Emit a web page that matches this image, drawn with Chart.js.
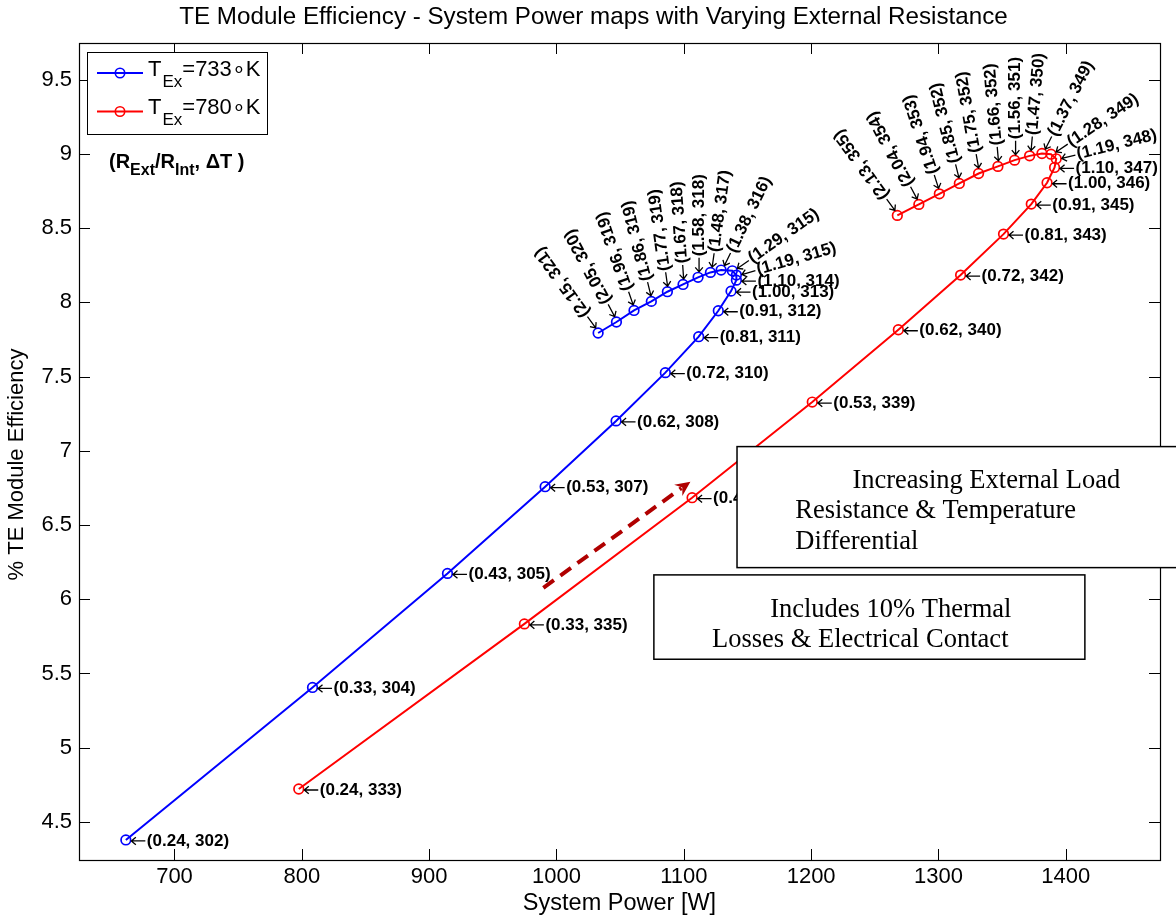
<!DOCTYPE html>
<html><head><meta charset="utf-8">
<script src="https://cdn.jsdelivr.net/npm/chart.js@4.4.1/dist/chart.umd.min.js"></script>
<style>html,body{margin:0;padding:0;background:#fff;overflow:hidden}#wrap{width:1176px;height:919px}</style>
</head><body><div id="wrap"><canvas id="c" width="1176" height="919"></canvas></div>
<script>
// ---------- text ----------
const chartTitle = 'TE Module Efficiency - System Power maps with Varying External Resistance';
const xTitle = 'System Power [W]';
const yTitle = '% TE Module Efficiency';
const xTicks = [700, 800, 900, 1000, 1100, 1200, 1300, 1400];
const yTicks = [4.5, 5, 5.5, 6, 6.5, 7, 7.5, 8, 8.5, 9, 9.5];
const xRange = [625, 1474];
const yRange = [4.244, 9.746];

// ---------- series T_Ex = 733 K ----------
const ratio733 = ['0.24','0.33','0.43','0.53','0.62','0.72','0.81','0.91','1.00','1.10','1.19','1.29','1.38','1.48','1.58','1.67','1.77','1.86','1.96','2.05','2.15'];
const dT733 = [302,304,305,307,308,310,311,312,313,314,315,315,316,317,318,318,319,319,319,320,321];
const power733 = [661.8,808.4,914.4,991.1,1046.8,1085.5,1111.7,1127.1,1137.1,1141.3,1141.3,1138.1,1129.3,1120.9,1111.2,1099.4,1087.1,1074.5,1060.9,1047.1,1032.7];
const eff733 = [4.379,5.406,6.174,6.758,7.201,7.526,7.768,7.943,8.075,8.149,8.183,8.212,8.217,8.201,8.168,8.120,8.071,8.006,7.945,7.867,7.793];
const angle733 = [0,0,0,0,0,0,0,0,0,0,16,35,64,82,90,94,98,104,109,118,126];

// ---------- series T_Ex = 780 K ----------
const ratio780 = ['0.24','0.33','0.43','0.53','0.62','0.72','0.81','0.91','1.00','1.10','1.19','1.28','1.37','1.47','1.56','1.66','1.75','1.85','1.94','2.04','2.13'];
const dT780 = [333,335,337,339,340,342,343,345,346,347,348,349,349,350,351,352,352,352,353,354,355];
const power780 = [797.6,974.8,1106.5,1200.9,1268.5,1317.4,1351.1,1372.9,1385.3,1391.2,1392.5,1388.4,1381.3,1371.6,1359.8,1346.7,1331.5,1316.4,1300.7,1284.6,1267.7];
const eff780 = [4.722,5.834,6.684,7.328,7.815,8.183,8.459,8.661,8.805,8.908,8.966,8.997,9.002,8.986,8.957,8.915,8.867,8.800,8.730,8.659,8.585];
const angle780 = [0,0,0,0,0,0,0,0,0,0,14,34,63,85,90,95,100,104,108,118,126];

// ---------- annotations (data coordinates) ----------
const trendArrow = {from: [989.7, 6.077], to: [1105.2, 6.792]};
const note1Box = {x0: 1141.8, x1: 1495, y0: 7.028, y1: 6.213};
const note1Lines = [['Increasing External Load', 1232.4, 6.797], ['Resistance & Temperature', 1187.6, 6.595], ['Differential', 1187.6, 6.388]];
const note2Box = {x0: 1076.5, x1: 1415, y0: 6.164, y1: 5.596};
const note2Lines = [['Includes 10% Thermal', 1167.8, 5.929], ['Losses & Electrical Contact', 1122.1, 5.727]];

const SANS = '"Liberation Sans", Arial, Helvetica, sans-serif';
const SERIF = '"Liberation Serif", "Times New Roman", serif';

function toPts(xs, ys) { return xs.map((v, i) => ({x: v, y: ys[i]})); }

const decor = {
  id: 'decor',
  afterDatasetsDraw(chart) {
    const {ctx, chartArea: a, scales: {x, y}} = chart;
    // point labels: leftarrow + "(ratio, dT)", rotated around the marker
    ctx.save();
    ctx.fillStyle = '#000';
    ctx.strokeStyle = '#000';
    ctx.lineWidth = 1.3;
    ctx.font = 'bold 17px ' + SANS;
    ctx.textBaseline = 'middle';
    ctx.textAlign = 'left';
    const sets = [[0, ratio733, dT733, angle733], [1, ratio780, dT780, angle780]];
    sets.forEach(([di, rs, ds, angs]) => {
      chart.getDatasetMeta(di).data.forEach((pt, i) => {
        ctx.save();
        ctx.translate(pt.x, pt.y);
        ctx.rotate(-angs[i] * Math.PI / 180);
        ctx.beginPath();
        ctx.moveTo(5.5, 1); ctx.lineTo(19.5, 1);
        ctx.moveTo(10, -2.8); ctx.lineTo(5.5, 1); ctx.lineTo(10, 4.8);
        ctx.stroke();
        ctx.fillText('(' + rs[i] + ', ' + ds[i] + ')', 21, 1);
        ctx.restore();
      });
    });
    ctx.restore();

    // frame and inward ticks
    ctx.save();
    ctx.strokeStyle = '#000';
    ctx.lineWidth = 1.2;
    ctx.strokeRect(Math.round(a.left) + 0.5, Math.round(a.top) + 0.5, Math.round(a.right - a.left), Math.round(a.bottom - a.top));
    ctx.lineWidth = 1;
    ctx.beginPath();
    xTicks.forEach(v => {
      const px = Math.round(x.getPixelForValue(v)) + 0.5;
      ctx.moveTo(px, a.bottom); ctx.lineTo(px, a.bottom - 11);
      ctx.moveTo(px, a.top); ctx.lineTo(px, a.top + 11);
    });
    yTicks.forEach(v => {
      const py = Math.round(y.getPixelForValue(v)) + 0.5;
      ctx.moveTo(a.left, py); ctx.lineTo(a.left + 11, py);
      ctx.moveTo(a.right, py); ctx.lineTo(a.right - 11, py);
    });
    ctx.stroke();
    ctx.restore();

    // title and y-axis title
    ctx.save();
    ctx.fillStyle = '#000';
    ctx.font = '24.2px ' + SANS;
    ctx.textAlign = 'center';
    ctx.textBaseline = 'middle';
    ctx.fillText(chartTitle, (a.left + a.right) / 2 - 26, 17);
    ctx.font = '22px ' + SANS;
    ctx.translate(17, (a.top + a.bottom) / 2 + 13);
    ctx.rotate(-Math.PI / 2);
    ctx.fillText(yTitle, 0, 0);
    ctx.restore();

    // legend
    ctx.save();
    const lx = a.left + 8, ly = a.top + 9, lw = 180, lh = 82;
    ctx.fillStyle = '#fff';
    ctx.fillRect(lx, ly, lw, lh);
    ctx.strokeStyle = '#000';
    ctx.lineWidth = 1;
    ctx.strokeRect(lx + 0.5, ly + 0.5, lw, lh);
    chart.data.datasets.forEach((ds, i) => {
      const ey = ly + 21 + i * 38.5;
      ctx.strokeStyle = ds.borderColor;
      ctx.lineWidth = 2;
      ctx.beginPath(); ctx.moveTo(lx + 10, ey); ctx.lineTo(lx + 56, ey); ctx.stroke();
      ctx.lineWidth = 1.6;
      ctx.beginPath(); ctx.arc(lx + 33, ey, 4.7, 0, Math.PI * 2); ctx.stroke();
      ctx.fillStyle = '#000';
      ctx.textBaseline = 'alphabetic';
      ctx.textAlign = 'left';
      let tx = lx + 61;
      ctx.font = '22px ' + SANS;
      ctx.fillText('T', tx, ey + 2.5); tx += ctx.measureText('T').width + 1;
      ctx.font = '17px ' + SANS;
      ctx.fillText('Ex', tx, ey + 13.5); tx += ctx.measureText('Ex').width;
      ctx.font = '22px ' + SANS;
      ctx.fillText(ds.legendText, tx, ey + 2.5);
    });
    ctx.restore();

    // (R_Ext/R_Int, dT) caption
    ctx.save();
    ctx.fillStyle = '#000';
    ctx.textBaseline = 'alphabetic';
    ctx.textAlign = 'left';
    const parts = [['(R', 0], ['Ext', 1], ['/R', 0], ['Int', 1], [', \u0394T )', 0]];
    let cx = a.left + 30;
    const cy = a.top + 125;
    parts.forEach(([t, sub]) => {
      ctx.font = 'bold ' + (sub ? 16 : 20) + 'px ' + SANS;
      ctx.fillText(t, cx, cy + (sub ? 7 : 0));
      cx += ctx.measureText(t).width;
    });
    ctx.restore();

    // dashed trend arrow
    ctx.save();
    const ax0 = x.getPixelForValue(trendArrow.from[0]), ay0 = y.getPixelForValue(trendArrow.from[1]);
    const ax1 = x.getPixelForValue(trendArrow.to[0]), ay1 = y.getPixelForValue(trendArrow.to[1]);
    const ang = Math.atan2(ay1 - ay0, ax1 - ax0);
    const headL = 15, headW = 7;
    ctx.strokeStyle = '#b00000';
    ctx.fillStyle = '#b00000';
    ctx.lineWidth = 4;
    ctx.setLineDash([13, 8]);
    ctx.beginPath();
    ctx.moveTo(ax0, ay0);
    ctx.lineTo(ax1 - Math.cos(ang) * (headL - 4), ay1 - Math.sin(ang) * (headL - 4));
    ctx.stroke();
    ctx.setLineDash([]);
    ctx.translate(ax1, ay1);
    ctx.rotate(ang);
    ctx.beginPath();
    ctx.moveTo(0, 0);
    ctx.lineTo(-headL, -headW);
    ctx.lineTo(-headL + 5, 0);
    ctx.lineTo(-headL, headW);
    ctx.closePath();
    ctx.fill();
    ctx.restore();

    // text boxes
    function box(b, lines) {
      const x0 = x.getPixelForValue(b.x0), x1 = x.getPixelForValue(b.x1);
      const y0 = y.getPixelForValue(b.y0), y1 = y.getPixelForValue(b.y1);
      ctx.save();
      ctx.fillStyle = '#fff';
      ctx.fillRect(x0, y0, x1 - x0, y1 - y0);
      ctx.strokeStyle = '#000';
      ctx.lineWidth = 1.5;
      ctx.strokeRect(x0, y0, x1 - x0, y1 - y0);
      ctx.fillStyle = '#000';
      ctx.font = '26.5px ' + SERIF;
      ctx.textAlign = 'left';
      ctx.textBaseline = 'middle';
      lines.forEach(([t, vx, vy]) => ctx.fillText(t, x.getPixelForValue(vx), y.getPixelForValue(vy)));
      ctx.restore();
    }
    box(note1Box, note1Lines);
    box(note2Box, note2Lines);
  }
};

const common = {showLine: true, borderWidth: 2, pointRadius: 4.8, pointBorderWidth: 1.7,
  pointBackgroundColor: 'rgba(0,0,0,0)', pointHoverRadius: 4.8, tension: 0, fill: false};

new Chart(document.getElementById('c'), {
  type: 'scatter',
  data: {
    datasets: [
      Object.assign({label: 'TEx=733\u2218K', legendText: '=733\u2218K', data: toPts(power733, eff733),
        borderColor: '#0000ff', backgroundColor: '#0000ff', pointBorderColor: '#0000ff'}, common),
      Object.assign({label: 'TEx=780\u2218K', legendText: '=780\u2218K', data: toPts(power780, eff780),
        borderColor: '#ff0000', backgroundColor: '#ff0000', pointBorderColor: '#ff0000'}, common)
    ]
  },
  options: {
    responsive: false,
    animation: false,
    devicePixelRatio: 1,
    events: [],
    layout: {padding: {top: 43, right: 16, left: 0, bottom: 0}},
    plugins: {legend: {display: false}, title: {display: false}, tooltip: {enabled: false}},
    scales: {
      x: {
        type: 'linear', min: xRange[0], max: xRange[1],
        afterBuildTicks: s => { s.ticks = xTicks.map(v => ({value: v})); },
        afterFit: s => { s.height = 59; },
        grid: {display: false, drawTicks: false},
        border: {display: false},
        ticks: {color: '#000', font: {family: SANS, size: 22}, padding: 4, maxRotation: 0, autoSkip: false,
          callback: v => String(v)},
        title: {display: true, text: xTitle, color: '#000', font: {family: SANS, size: 23.5}, padding: {top: 0, bottom: 1}}
      },
      y: {
        type: 'linear', min: yRange[0], max: yRange[1],
        afterBuildTicks: s => { s.ticks = yTicks.map(v => ({value: v})); },
        afterFit: s => { s.width = 79; },
        grid: {display: false, drawTicks: false},
        border: {display: false},
        ticks: {color: '#000', font: {family: SANS, size: 22}, padding: 7, autoSkip: false,
          callback: v => String(v)},
        title: {display: false, text: yTitle}
      }
    }
  },
  plugins: [decor]
});
</script>
</body></html>
